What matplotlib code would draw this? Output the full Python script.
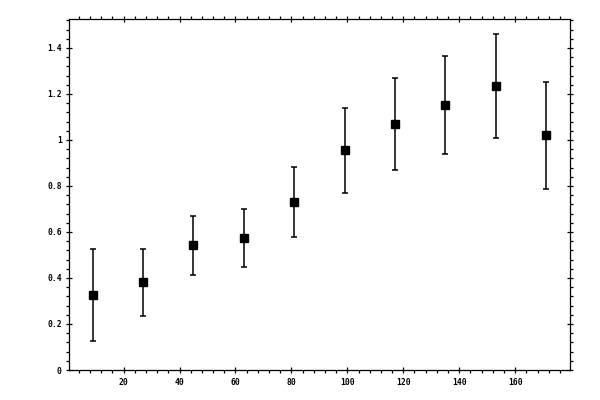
import numpy as np
import matplotlib
matplotlib.use("Agg")
import matplotlib.pyplot as plt
from matplotlib.ticker import MultipleLocator, FuncFormatter

# bin centres and measured values
x_vals = [9, 27, 45, 63, 81, 99, 117, 135, 153, 171]
y_vals = [0.324, 0.381, 0.543, 0.574, 0.731, 0.955, 1.068, 1.151, 1.234, 1.020]
y_errs = [0.200, 0.146, 0.128, 0.125, 0.151, 0.184, 0.200, 0.213, 0.227, 0.232]

fig = plt.figure(figsize=(6, 4), dpi=100)
ax = fig.add_axes([0.1155, 0.075, 0.8345, 0.877])

ax.errorbar(x_vals, y_vals, yerr=y_errs, fmt="s", color="black",
            markersize=5.5, elinewidth=1.1, capsize=2, capthick=1.1)

ax.set_xlim(0.6, 179.6)
ax.set_ylim(0, 1.525)

ax.xaxis.set_major_locator(MultipleLocator(20))
ax.xaxis.set_minor_locator(MultipleLocator(4))
ax.yaxis.set_major_locator(MultipleLocator(0.2))
ax.yaxis.set_minor_locator(MultipleLocator(0.04))
fmt = FuncFormatter(lambda v, p: "%g" % round(v, 2))
ax.xaxis.set_major_formatter(fmt)
ax.yaxis.set_major_formatter(fmt)

for s in ax.spines.values():
    s.set_linewidth(0.9)

ax.tick_params(which="major", direction="inout", length=5, width=0.9,
               top=True, right=True, labelsize=5.8, pad=3)
ax.tick_params(which="minor", direction="out", length=2, width=0.9,
               top=True, right=True)
for lab in ax.get_xticklabels() + ax.get_yticklabels():
    lab.set_family("DejaVu Sans Mono")
    lab.set_fontweight("bold")

fig.savefig("out.png", dpi=100)
